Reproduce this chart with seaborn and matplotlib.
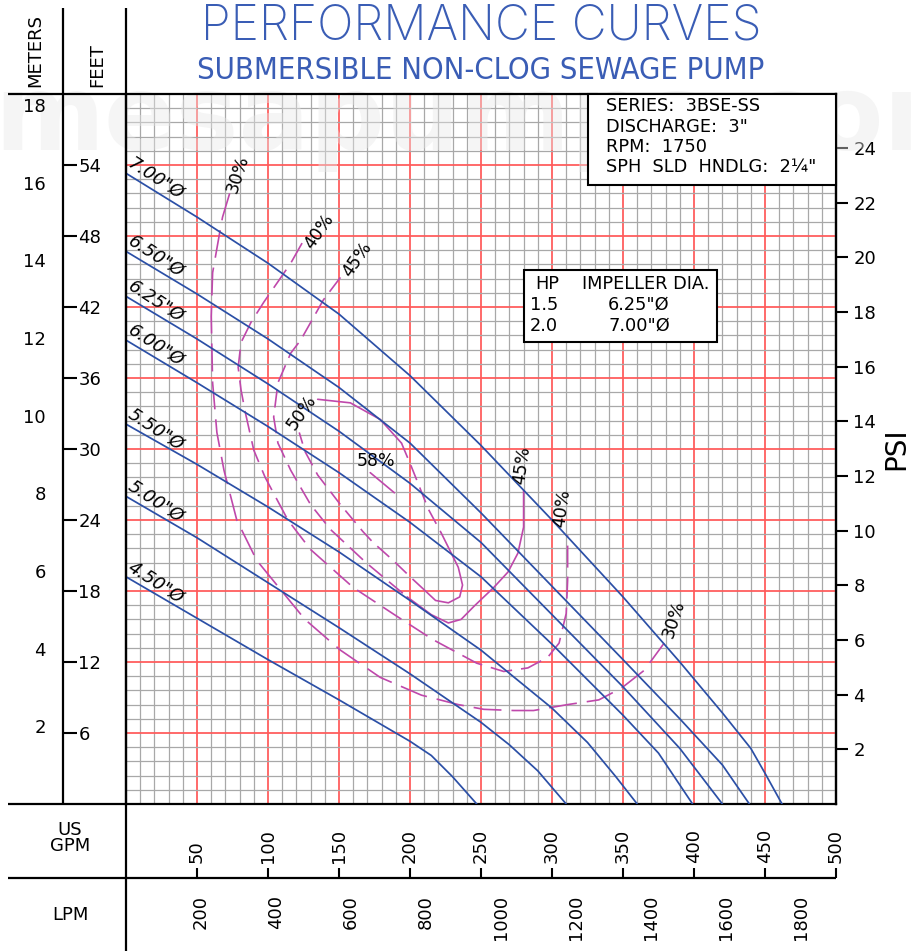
# Performance curves 3BSE-SS (seaborn re-draw)
import numpy as np
import pandas as pd
import matplotlib
matplotlib.use("Agg")
import matplotlib.pyplot as plt
import seaborn as sns
from matplotlib.patches import Rectangle
from matplotlib import font_manager

# ========== 1. Data (flow = US GPM, head = feet) ==========
q_700 = [0, 50, 100, 150, 200, 250, 300, 350, 390, 420, 440, 450, 462]
h_700 = [53.3, 49.6, 45.7, 41.4, 36.2, 30.3, 24.0, 17.5, 12.0, 7.7, 4.7, 2.6, 0]
q_650 = [0, 50, 100, 150, 200, 250, 300, 350, 390, 420, 439]
h_650 = [46.7, 43.1, 39.3, 35.2, 30.5, 24.6, 18.4, 12.2, 7.2, 3.3, 0]
q_625 = [0, 50, 100, 150, 200, 250, 300, 350, 390, 420]
h_625 = [42.9, 39.3, 35.5, 31.5, 27.1, 22.1, 16.0, 9.9, 4.7, 0]
q_600 = [0, 50, 100, 150, 200, 250, 300, 350, 375, 399]
h_600 = [39.2, 35.6, 31.9, 28.0, 23.8, 19.2, 13.5, 7.5, 4.3, 0]
q_550 = [0, 50, 100, 150, 200, 250, 300, 325, 345, 360]
h_550 = [32.1, 28.7, 25.1, 21.3, 17.2, 13.0, 8.1, 5.2, 2.3, 0]
q_500 = [0, 50, 100, 150, 200, 250, 270, 290, 310]
h_500 = [26.0, 22.5, 18.7, 14.9, 11.0, 6.9, 5.0, 2.8, 0]
q_450 = [0, 50, 100, 150, 200, 215, 230, 247]
h_450 = [19.2, 15.7, 12.2, 8.8, 5.3, 4.1, 2.3, 0]

dia_labels = ['7.00"Ø', '6.50"Ø', '6.25"Ø', '6.00"Ø', '5.50"Ø', '5.00"Ø', '4.50"Ø']

# efficiency contours
e30_q = [73, 68, 66, 61, 60, 61, 64, 69, 78, 92, 109, 126, 151, 179, 208, 234, 252, 273, 287, 311, 333, 349, 365, 379]
e30_h = [51.6, 49.6, 48.3, 44.9, 41.2, 35.6, 31.4, 28.2, 24.0, 20.6, 18.1, 15.6, 13.0, 10.7, 9.2, 8.4, 8.0, 7.9, 7.9, 8.4, 8.8, 9.8, 11.3, 13.6]
e40_q = [124, 116, 97, 88, 81, 79, 81, 84, 90, 98, 114, 130, 160, 189, 216, 247, 266, 283, 297, 305, 310, 311, 311]
e40_h = [47.4, 45.7, 42.4, 40.7, 39.0, 36.9, 35.0, 33.1, 29.9, 27.6, 24.0, 21.5, 18.3, 16.0, 13.9, 11.9, 11.2, 11.5, 12.4, 13.6, 16.1, 18.9, 22.7]
e45_q = [151, 139, 123, 116, 107, 104, 107, 116, 130, 144, 169, 198, 215, 227, 236, 245, 259, 269, 276, 280, 280]
e45_h = [44.5, 42.6, 39.2, 38.1, 35.6, 32.7, 30.5, 28.2, 25.3, 23.2, 20.4, 17.5, 16.0, 15.3, 15.6, 16.7, 18.3, 19.6, 21.2, 23.4, 26.5]
e50_q = [135, 158, 179, 194, 201, 206, 213, 222, 234, 237, 235, 227, 218, 210, 201, 188, 174, 167, 151, 135, 126, 122]
e50_h = [34.2, 33.9, 32.5, 30.5, 28.5, 27.0, 24.9, 22.9, 20.0, 18.5, 17.5, 17.0, 17.2, 18.1, 19.1, 20.6, 22.1, 23.0, 25.3, 27.8, 29.8, 31.4]
e58_q = [172, 189]
e58_h = [28.0, 26.3]

eff_text = ['30%', '40%', '45%', '50%', '58%', '45%', '40%', '30%']
eff_text_q = [79, 136, 163, 124, 176, 279, 307, 386]
eff_text_h = [53.2, 48.4, 46.0, 33.1, 29.0, 28.6, 25.0, 15.6]
eff_text_rot = [72, 55, 55, 55, 0, 82, 82, 72]

info_lines = ['SERIES:  3BSE-SS', 'DISCHARGE:  3"', 'RPM:  1750', 'SPH  SLD  HNDLG:  2¼"']
hp_values = ['1.5', '2.0']
hp_dia = ['6.25"Ø', '7.00"Ø']

gpm_ticks = np.arange(50, 501, 50)
lpm_ticks = np.arange(200, 1801, 200)
meter_ticks = np.arange(2, 19, 2)
feet_ticks = np.arange(6, 55, 6)
psi_ticks = np.arange(2, 25, 2)

FT_PER_M = 3.28084
FT_PER_PSI = 2.31
LPM_PER_GPM = 3.78541

# ========== 2. Style ==========
sns.set_style("white")
plt.rcParams['font.family'] = ['DejaVu Sans']
for k in ('text.color', 'axes.labelcolor', 'xtick.color', 'ytick.color'):
    plt.rcParams[k] = 'black'

BLUE = '#2b4fa6'
MAG = '#bf48ab'
RED = '#ff5a5a'
GRAY = '#a8a8a8'
TITLE = '#3a5db5'

ttf = font_manager.fontManager.ttflist
light = [f.name for f in ttf
         if f.name in ('Lato', 'Roboto', 'Open Sans', 'Inter') and str(f.weight) in ('200', '300', 'light', 'extra light')]
title_font = light[0] if light else 'DejaVu Sans'
cond = [f for f in ttf if f.style == 'normal' and str(f.weight) in ('400', 'normal', 'regular')
        and ('Condensed' in f.name or 'Narrow' in f.name
             or str(f.stretch) in ('condensed', 'semi-condensed', 'extra-condensed'))]
sub_kw = dict(family=cond[0].name, stretch=cond[0].stretch) if cond else dict(family='DejaVu Sans')

W, H = 912, 951
fig = plt.figure(figsize=(W / 100, H / 100), dpi=100)
x0, w = 126 / W, 710 / W
y0, h = (H - 804) / H, 710 / H

# ========== 3. Main chart ==========
ax = fig.add_axes([x0, y0, w, h])
ax.set_xlim(0, 500)
ax.set_ylim(0, 60)
ax.set_xticks(np.arange(0, 501, 50))
ax.set_xticks(np.arange(0, 501, 10), minor=True)
ax.set_yticks(np.arange(0, 61, 6))
ax.set_yticks(np.arange(0, 60.1, 1.2), minor=True)
ax.set_axisbelow(True)
ax.grid(which='minor', color=GRAY, lw=0.9)
ax.grid(which='major', color=RED, lw=1.4, alpha=0.9)
ax.tick_params(which='both', length=0, labelbottom=False, labelleft=False)
for s in ax.spines.values():
    s.set_color('black')
    s.set_linewidth(1.6)

# watermark
ax.text(-6 / W, (H - 150) / H, 'mesapumps.com', transform=fig.transFigure, fontsize=76,
        fontweight='bold', color='#e8e8e8', alpha=0.42, clip_on=False, zorder=1.5)

head = [(q_700, h_700), (q_650, h_650), (q_625, h_625), (q_600, h_600),
        (q_550, h_550), (q_500, h_500), (q_450, h_450)]
df_head = pd.concat([pd.DataFrame({'gpm': q, 'ft': hh, 'dia': d})
                     for d, (q, hh) in zip(dia_labels, head)])
sns.lineplot(data=df_head, x='gpm', y='ft', units='dia', estimator=None, sort=False,
             color=BLUE, lw=1.25, legend=False, ax=ax, zorder=3)
for d, (q, hh) in zip(dia_labels, head):
    ax.text(21, hh[0] - 0.45, d, rotation=-33, rotation_mode='anchor', ha='center',
            va='center', fontsize=13, style='italic', zorder=5)


def eff_line(q, hh, ls):
    sns.lineplot(x=q, y=hh, sort=False, estimator=None, color=MAG, lw=1.2,
                 linestyle=ls, legend=False, ax=ax, zorder=2.5)


eff_line(e30_q, e30_h, (0, (16.8, 6)))
eff_line(e40_q, e40_h, (0, (13.2, 5.4)))
eff_line(e45_q[:12], e45_h[:12], (0, (10.8, 4.8)))
eff_line(e45_q[11:], e45_h[11:], '-')
eff_line(e50_q[:4], e50_h[:4], '-')
eff_line(e50_q[3:8], e50_h[3:8], (0, (9.6, 4.8)))
eff_line(e50_q[7:14], e50_h[7:14], '-')
eff_line(e50_q[13:], e50_h[13:], (0, (9.6, 4.8)))
eff_line(e58_q, e58_h, '-')
ax.set_xlabel('')
ax.set_ylabel('')

for t, q, hh, r in zip(eff_text, eff_text_q, eff_text_h, eff_text_rot):
    ax.text(q, hh, t, rotation=r, rotation_mode='anchor', ha='center', va='center',
            fontsize=12.5, zorder=5)

# PSI axis on the right
sec = ax.secondary_yaxis('right', functions=(lambda f: f / FT_PER_PSI, lambda p: p * FT_PER_PSI))
sec.set_yticks(psi_ticks)
sec.tick_params(direction='out', length=8.5, width=1.5, labelsize=13, pad=4)
sec.set_ylabel('PSI', fontsize=20, labelpad=4)
sec.spines['right'].set_linewidth(1.6)

# meters / feet axes
axm = fig.add_axes([63 / W, y0, 1e-5, h])
axm.set_ylim(0, 60 / FT_PER_M)
axm.set_yticks(meter_ticks)
axm.set_xticks([])
axm.tick_params(axis='y', direction='out', length=9.4, width=1.5, labelsize=13, pad=3)
axf = fig.add_axes([63 / W, y0, 1e-5, h])
axf.set_ylim(0, 60)
axf.yaxis.tick_right()
axf.set_yticks(feet_ticks)
axf.set_xticks([])
axf.tick_params(axis='y', direction='out', length=10, width=1.5, labelsize=13, pad=1)

# GPM / LPM axes
axg = fig.add_axes([x0, (H - 878) / H, w, 1e-5])
axg.set_xlim(0, 500)
axg.xaxis.tick_top()
axg.set_xticks(gpm_ticks)
axg.set_yticks([])
axg.tick_params(axis='x', direction='out', length=7.2, width=1.5, labelsize=13, pad=3.5, labelrotation=90)
axl = fig.add_axes([x0, (H - 878) / H, w, 1e-5])
axl.set_xlim(0, 500 * LPM_PER_GPM)
axl.set_xticks(lpm_ticks)
axl.set_yticks([])
axl.tick_params(axis='x', direction='out', length=8.6, width=1.5, labelsize=13, pad=3.5, labelrotation=90)
for a in (axm, axf, axg, axl):
    a.patch.set_alpha(0)
    for s in a.spines.values():
        s.set_visible(False)

# ========== 4. Frame, titles, boxes ==========
fr = fig.add_axes([0, 0, 1, 1], zorder=10)
fr.set_xlim(0, W)
fr.set_ylim(H, 0)
fr.axis('off')
fr.patch.set_alpha(0)
lk = dict(color='black', lw=1.6, solid_capstyle='butt')
fr.plot([8, 126], [94, 94], **lk)
fr.plot([8, 126], [804, 804], **lk)
fr.plot([8, 836], [878, 878], **lk)
fr.plot([63, 63], [8, 804], **lk)
fr.plot([126, 126], [8, 951], **lk)

fr.text(35, 87, 'METERS', rotation=90, rotation_mode='anchor', ha='left', va='center', fontsize=13)
fr.text(97, 87, 'FEET', rotation=90, rotation_mode='anchor', ha='left', va='center', fontsize=13)
fr.text(70, 838, 'US\nGPM', ha='center', va='center', fontsize=13, linespacing=0.85)
fr.text(70, 915, 'LPM', ha='center', va='center', fontsize=13)

t1 = fr.text(481, 40, 'PERFORMANCE CURVES', ha='center', va='baseline', fontsize=34,
             color=TITLE, family=title_font, fontweight='light')
t2 = fr.text(481, 79, 'SUBMERSIBLE NON-CLOG SEWAGE PUMP', ha='center', va='baseline', fontsize=27,
             color=TITLE, **sub_kw)
fig.canvas.draw()
for t, target in ((t1, 562), (t2, 568)):
    bw = t.get_window_extent().width
    t.set_fontsize(t.get_fontsize() * target / bw)

fr.add_patch(Rectangle((588, 94), 248, 91, fc='white', ec='black', lw=1.5))
for i, line in enumerate(info_lines):
    fr.text(606, 106 + i * 20.5, line, ha='left', va='center', fontsize=12.8)

fr.add_patch(Rectangle((524, 270), 193, 72, fc='white', ec='black', lw=1.5))
fr.text(535, 284, 'HP', ha='left', va='center', fontsize=12.8)
fr.text(582, 284, 'IMPELLER DIA.', ha='left', va='center', fontsize=12.8)
for i, (hp, d) in enumerate(zip(hp_values, hp_dia)):
    fr.text(530, 305 + i * 21, hp, ha='left', va='center', fontsize=12.8)
    fr.text(639, 305 + i * 21, d, ha='center', va='center', fontsize=12.8)

fig.savefig('out.png', dpi=100)
